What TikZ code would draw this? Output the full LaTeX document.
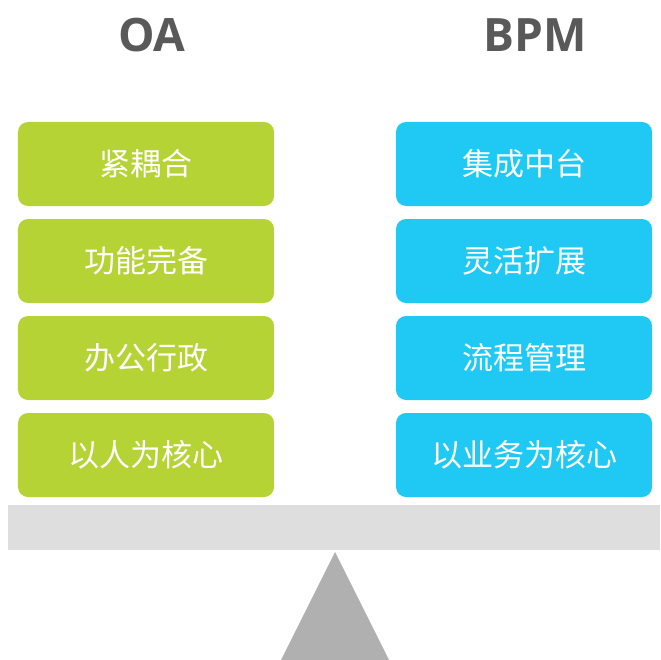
\documentclass[tikz,border=0pt]{standalone}
\usepackage{fontspec}
\setmainfont{Open Sans}
\newfontfamily\cjk{Noto Sans CJK SC}
\usetikzlibrary{positioning}
\definecolor{oagreen}{HTML}{B5D334}
\definecolor{bpmblue}{HTML}{20C9F3}
\definecolor{titlegray}{HTML}{595959}
\definecolor{beamgray}{HTML}{DEDEDE}
\definecolor{pivotgray}{HTML}{B0B0B0}
\tikzset{
  card/.style={rounded corners=10bp, minimum width=256bp, minimum height=84bp,
    inner sep=0pt, text=white, font=\cjk\fontsize{31bp}{36bp}\selectfont},
  title/.style={text=titlegray, font=\bfseries\fontsize{46bp}{50bp}\selectfont}
}
\begin{document}
\begin{tikzpicture}[x=1bp,y=-1bp]
  \useasboundingbox[fill=white] (0,0) rectangle (660,660);
  % titles
  \node[title] (oa) at (152,35) {OA};
  \node[title] (bpm) at (535,35) {BPM};
  % the two columns of cards
  \foreach [count=\i] \lab in {紧耦合,功能完备,办公行政,以人为核心} {
    \node[card, fill=oagreen] (left\i) at (146,67+97*\i) {\lab};
  }
  \foreach [count=\i] \lab in {集成中台,灵活扩展,流程管理,以业务为核心} {
    \node[card, fill=bpmblue] (right\i) at (524,67+97*\i) {\lab};
  }
  % beam and pivot
  \fill[beamgray] (8,505) rectangle (660,550);
  \fill[pivotgray] (335,552) -- (389,660) -- (281,660) -- cycle;
\end{tikzpicture}
\end{document}
